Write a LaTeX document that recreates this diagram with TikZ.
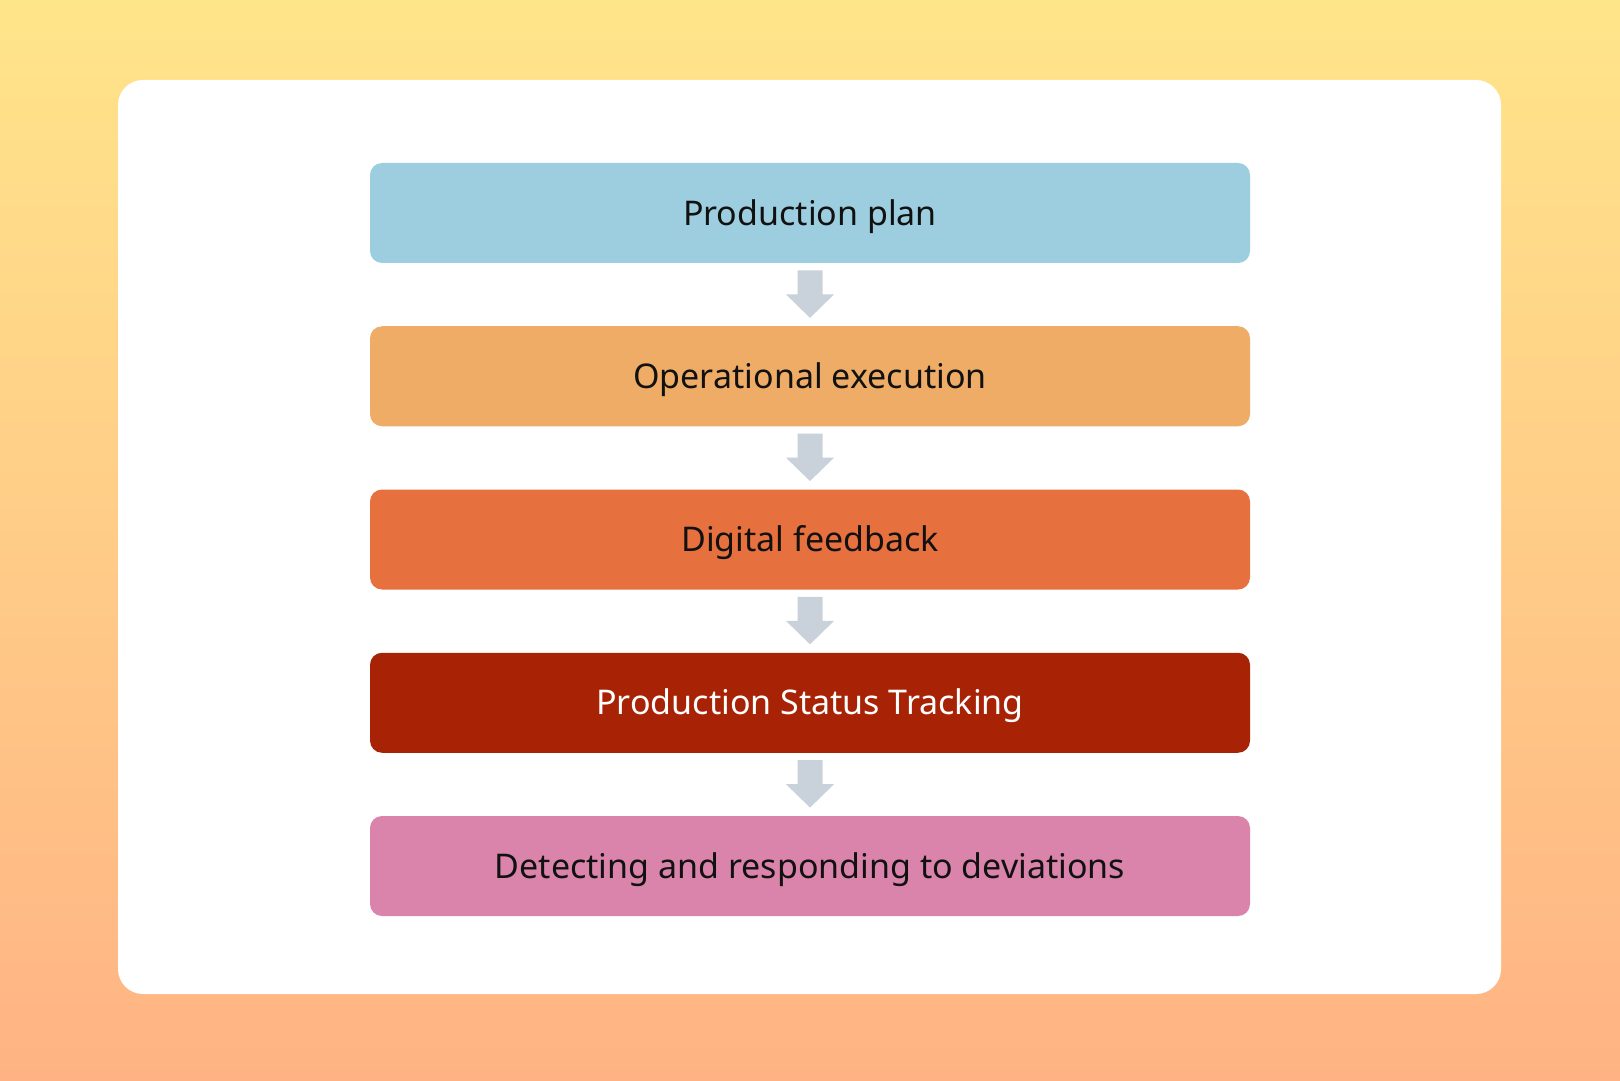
\documentclass[tikz,border=0pt]{standalone}
\usepackage{fontspec}
\setmainfont{Noto Sans}
\usetikzlibrary{calc}
\definecolor{bgtop}{HTML}{FFE58A}
\definecolor{bgbot}{HTML}{FFB384}
\definecolor{cA}{HTML}{9DCEDF}
\definecolor{cB}{HTML}{EEAC66}
\definecolor{cC}{HTML}{E7703F}
\definecolor{cD}{HTML}{A82306}
\definecolor{cE}{HTML}{DB84AB}
\definecolor{arrowc}{HTML}{C9D1DA}
\definecolor{txt}{HTML}{111111}
\tikzset{
  stepbox/.style={rectangle, rounded corners=6pt, minimum width=440pt, minimum height=50pt,
    inner sep=0pt, text height=12.2pt, text depth=0pt, text=txt,
    font=\fontsize{17pt}{20pt}\selectfont},
  blockarrow/.style={fill=arrowc, draw=none}
}
\newcommand{\blockarr}[2]{%
  \fill[blockarrow] ([xshift=-6.25pt,yshift=-3.5pt]#1.south) -- ([xshift=6.25pt,yshift=-3.5pt]#1.south)
    -- ([xshift=6.25pt,yshift=-15.5pt]#1.south) -- ([xshift=12pt,yshift=-15.5pt]#1.south)
    -- ([yshift=4pt]#2.north) -- ([xshift=-12pt,yshift=-15.5pt]#1.south)
    -- ([xshift=-6.25pt,yshift=-15.5pt]#1.south) -- cycle;}
\begin{document}
\begin{tikzpicture}[x=0.5pt,y=-0.5pt]
\useasboundingbox (0,0) rectangle (1620,1080);
\shade[top color=bgtop, bottom color=bgbot] (0,0) rectangle (1620,1080);
\fill[white, rounded corners=12.5pt] (118,80) rectangle (1501,994);
\node[stepbox, fill=cA] (s1) at (810,213) {Production plan};
\node[stepbox, fill=cB] (s2) at (810,376.25) {Operational execution};
\node[stepbox, fill=cC] (s3) at (810,539.5) {Digital feedback};
\node[stepbox, fill=cD, text=white] (s4) at (810,702.75) {Production Status Tracking};
\node[stepbox, fill=cE] (s5) at (810,866) {Detecting and responding to deviations};
\blockarr{s1}{s2}
\blockarr{s2}{s3}
\blockarr{s3}{s4}
\blockarr{s4}{s5}
\end{tikzpicture}
\end{document}
